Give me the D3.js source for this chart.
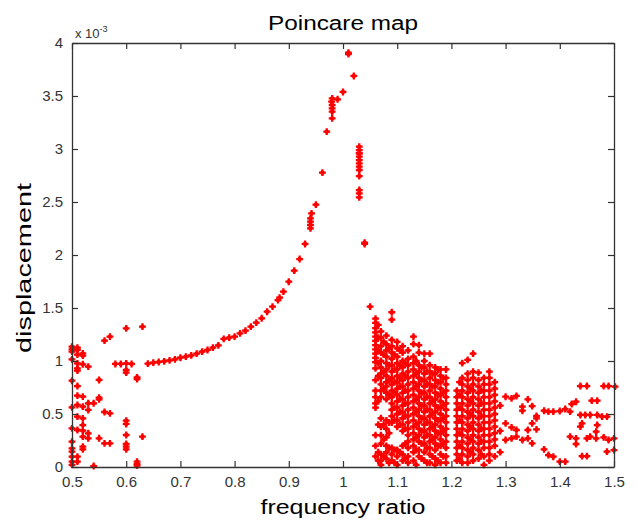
<!DOCTYPE html>
<html>
<head>
<meta charset="utf-8">
<script src="https://cdn.jsdelivr.net/npm/d3@7"></script>
<style>
  html, body { margin: 0; padding: 0; background: #fff; }
  svg { display: block; }
  text { font-family: "Liberation Sans", Arial, Helvetica, sans-serif; }
</style>
</head>
<body>
<svg id="chart" width="636" height="522"></svg>
<script>
// ---------- DATA (displacement in units of 1e-3) ----------
const xTickValues = [0.5, 0.6, 0.7, 0.8, 0.9, 1.0, 1.1, 1.2, 1.3, 1.4, 1.5];
const xTickLabels = ["0.5", "0.6", "0.7", "0.8", "0.9", "1", "1.1", "1.2", "1.3", "1.4", "1.5"];
const yTickValues = [0, 0.5, 1, 1.5, 2, 2.5, 3, 3.5, 4];
const yTickLabels = ["0", "0.5", "1", "1.5", "2", "2.5", "3", "3.5", "4"];

// low-frequency scattered region
const lowBandX = [0.50,0.51,0.50,0.51,0.52,0.52,0.50,0.51,0.52,0.53,0.51,0.51,
  0.50,0.51,0.51,0.52,0.50,0.51,0.52,0.53,0.54,0.53,0.55,0.55,0.51,0.52,0.50,0.51,0.52,0.52,0.53,0.53,0.52,0.52,0.52,0.50,0.50,0.50,0.50,0.51,0.51,0.54,
  0.55,0.56,0.57,0.58,0.59,0.60,0.61,0.60,0.60,0.60,0.63,0.62,0.62,0.56,0.57,0.60,0.60,0.60,0.60,0.60,0.60,0.55,0.56,0.57,0.63,0.62,0.62,0.62,
  0.50,0.50,0.50,0.51];
const lowBandY = [1.135,1.126,1.088,1.104,1.072,1.050,1.016,0.978,0.969,0.947,0.931,0.909,
  0.814,0.764,0.673,0.664,0.563,0.585,0.569,0.601,0.601,0.538,0.654,0.638,0.475,0.459,0.365,0.349,0.396,0.343,0.318,0.271,0.286,0.192,0.167,0.239,0.176,0.145,0.097,0.097,0.050,0.009,
  0.821,1.192,1.230,0.972,0.972,0.978,0.972,0.915,0.890,1.308,1.324,0.846,0.830,0.519,0.506,0.437,0.406,0.302,0.217,0.192,0.167,0.271,0.223,0.223,0.286,0.050,0.028,0.013,
  0.050,0.020,1.110,1.060];

// resonance curve (rising branch up to the peak)
const curveX = [0.64,0.65,0.66,0.67,0.68,0.69,0.70,0.71,0.72,0.73,0.74,0.75,0.76,0.77,
  0.78,0.79,0.80,0.81,0.82,0.83,0.84,0.85,0.86,0.87,0.88,0.883,0.89,0.90,0.91,0.92,0.93,
  0.94,0.94,0.94,0.94,0.942,0.95,0.962,0.97,0.98,0.98,0.98,0.98,0.979,0.98,0.99,1.00,1.01,1.01,1.02];
const curveY = [0.975,0.984,0.991,0.997,1.006,1.016,1.031,1.041,1.053,1.069,1.088,1.104,1.126,1.148,
  1.208,1.220,1.230,1.261,1.286,1.324,1.362,1.403,1.465,1.513,1.575,1.597,1.654,1.748,1.852,1.962,2.104,
  2.252,2.283,2.314,2.346,2.393,2.475,2.777,3.164,3.289,3.352,3.384,3.415,3.447,3.478,3.469,3.538,3.896,3.909,3.689];

// jump-down branch after the peak
const fallX = [1.03,1.03,1.03,1.03,1.03,1.03,1.03,1.03,1.03,1.03,1.03,1.03,1.03,1.04,1.04,1.05];
const fallY = [3.022,2.990,2.959,2.928,2.896,2.865,2.833,2.802,2.745,2.613,2.582,2.544,2.96,2.104,2.116,1.513];

// dense chaotic region: one column of displacements per frequency
const chaosX = [1.06,1.065,1.07,1.075,1.08,1.085,1.09,1.095,1.10,1.105,1.11,1.115,1.12,1.13,1.135,1.14,1.145,
  1.15,1.155,1.16,1.165,1.17,1.175,1.18,1.185,1.19,1.21,1.215,1.22,1.23,1.235,1.24,1.25,1.255,1.26,1.27,1.28,1.29];
const chaosY = [
  [1.40,1.36,1.31,1.27,1.23,1.19,1.15,1.11,1.07,1.03,0.99,0.93,0.82,0.72,0.66,0.60,0.56,0.30,0.20,0.10],
  [1.34,1.22,1.10,0.98,0.86,0.62,0.40,0.14,0.06],
  [1.28,1.22,1.14,1.08,1.00,0.94,0.88,0.84,0.78,0.72,0.66,0.46,0.38,0.30,0.22,0.12,0.06,0.02],
  [1.18,1.06,0.90,0.74,0.40,0.26,0.10],
  [1.24,1.16,1.10,1.04,0.98,0.92,0.86,0.80,0.76,0.70,0.64,0.44,0.36,0.28,0.20,0.14,0.08],
  [1.12,0.96,0.82,0.68,0.42,0.32,0.18,0.04],
  [1.46,1.39,1.20,1.14,1.08,1.02,0.96,0.90,0.84,0.78,0.72,0.66,0.60,0.54,0.48,0.42,0.18,0.12,0.06],
  [1.06,0.92,0.80,0.70,0.56,0.44,0.16,0.04],
  [1.18,1.12,1.04,0.98,0.92,0.86,0.80,0.74,0.68,0.62,0.56,0.50,0.44,0.38,0.16,0.10,0.02],
  [1.10,0.96,0.84,0.76,0.64,0.52,0.40,0.14],
  [1.14,1.08,1.00,0.94,0.88,0.82,0.76,0.70,0.64,0.58,0.52,0.46,0.40,0.34,0.20,0.12,0.06],
  [0.98,0.86,0.72,0.60,0.48,0.36,0.22,0.08],
  [1.10,1.02,0.96,0.90,0.84,0.78,0.72,0.66,0.60,0.54,0.48,0.42,0.36,0.30,0.24,0.18,0.10,0.04],
  [1.23,1.16,1.04,0.98,0.92,0.86,0.80,0.74,0.68,0.62,0.56,0.50,0.44,0.38,0.32,0.26,0.20,0.14,0.06],
  [1.00,0.88,0.76,0.64,0.52,0.40,0.28,0.16,0.02],
  [1.15,1.08,0.96,0.90,0.84,0.78,0.72,0.66,0.60,0.54,0.48,0.42,0.36,0.30,0.24,0.16,0.10],
  [0.94,0.82,0.70,0.58,0.46,0.34,0.22,0.08],
  [1.07,1.00,0.94,0.88,0.82,0.76,0.70,0.64,0.58,0.52,0.46,0.40,0.34,0.28,0.22,0.14,0.06],
  [0.90,0.78,0.66,0.54,0.42,0.30,0.18,0.04],
  [1.07,0.96,0.90,0.84,0.78,0.72,0.66,0.60,0.54,0.48,0.42,0.36,0.30,0.24,0.18,0.12,0.04],
  [0.88,0.76,0.62,0.50,0.38,0.26,0.10],
  [0.94,0.88,0.82,0.76,0.70,0.64,0.58,0.52,0.46,0.40,0.34,0.28,0.22,0.16,0.08,0.02],
  [0.92,0.80,0.68,0.56,0.44,0.32,0.20,0.06],
  [0.92,0.86,0.80,0.74,0.68,0.62,0.56,0.50,0.44,0.38,0.32,0.26,0.20,0.12,0.04],
  [0.84,0.70,0.58,0.46,0.34,0.22,0.10],
  [0.92,0.84,0.78,0.72,0.66,0.60,0.54,0.48,0.42,0.36,0.30,0.24,0.18,0.10,0.04],
  [0.72,0.66,0.60,0.54,0.48,0.42,0.36,0.30,0.24,0.18,0.12,0.06],
  [0.80,0.68,0.56,0.44,0.32,0.20,0.08],
  [0.98,0.84,0.78,0.72,0.66,0.60,0.54,0.48,0.42,0.36,0.30,0.24,0.18,0.12,0.04],
  [1.01,0.88,0.82,0.76,0.70,0.64,0.58,0.52,0.46,0.40,0.34,0.28,0.22,0.16,0.10,0.04],
  [0.74,0.62,0.50,0.38,0.26,0.14],
  [1.07,0.90,0.84,0.78,0.72,0.66,0.60,0.54,0.48,0.42,0.36,0.30,0.24,0.18,0.12,0.06],
  [0.89,0.82,0.76,0.70,0.64,0.58,0.52,0.46,0.40,0.34,0.28,0.22,0.16,0.08],
  [0.72,0.60,0.48,0.36,0.24,0.12],
  [0.84,0.78,0.72,0.66,0.60,0.54,0.48,0.42,0.36,0.30,0.24,0.18,0.10,0.02],
  [0.90,0.84,0.78,0.72,0.66,0.60,0.54,0.48,0.42,0.36,0.30,0.24,0.18,0.12,0.06],
  [0.80,0.74,0.68,0.62,0.56,0.50,0.44,0.38,0.32,0.26,0.20,0.10],
  [0.58,0.34,0.14]
];

// sparse high-frequency region
const highBandX = [1.300,1.311,1.320,1.300,1.311,1.320,1.320,1.311,1.300,
  1.331,1.331,1.341,1.349,1.331,1.341,1.341,1.349,1.349,1.357,1.357,1.357,
  1.371,1.379,1.388,1.400,1.410,1.419,1.422,1.430,
  1.371,1.379,1.388,1.400,1.410,
  1.419,1.430,1.430,1.438,1.441,1.450,1.456,1.467,1.469,1.467,1.438,1.447,1.456,1.469,1.478,1.487,1.481,1.490,1.500,1.487,1.500,
  1.438,1.450,1.481,1.490,1.502,1.459,1.469,1.441,1.450];
const highBandY = [0.663,0.648,0.670,0.412,0.374,0.349,0.286,0.270,0.255,
  0.569,0.531,0.638,0.575,0.255,0.270,0.349,0.412,0.223,0.355,0.459,0.481,
  0.531,0.522,0.522,0.528,0.547,0.522,0.594,0.616,
  0.167,0.113,0.097,0.050,0.050,
  0.286,0.270,0.217,0.381,0.412,0.270,0.286,0.333,0.396,0.270,0.491,0.491,0.491,0.491,0.475,0.475,0.280,0.255,0.270,0.145,0.160,
  0.764,0.764,0.764,0.764,0.758,0.626,0.626,0.102,0.102];

// ---------- CHART ----------
const W = 636, H = 522;
const M = { left: 72, right: 614, top: 43, bottom: 467 };
const svg = d3.select("#chart");
svg.append("rect").attr("width", W).attr("height", H).attr("fill", "#fff");

const x = d3.scaleLinear().domain([0.5, 1.5]).range([M.left, M.right]);
const y = d3.scaleLinear().domain([0, 4]).range([M.bottom, M.top]);

// assemble points
const pts = [];
lowBandX.forEach((v, i) => pts.push([v, lowBandY[i]]));
curveX.forEach((v, i) => pts.push([v, curveY[i]]));
fallX.forEach((v, i) => pts.push([v, fallY[i]]));
chaosX.forEach((v, i) => chaosY[i].forEach(d => pts.push([v, d])));
highBandX.forEach((v, i) => pts.push([v, highBandY[i]]));
const visible = pts.filter(p => p[1] >= 0 && p[1] <= 4);

const sym = d3.symbol().type(d3.symbolCross).size(26);
const g = svg.append("g");
g.selectAll("path.pt").data(visible)
  .join("path").attr("class", "pt")
  .attr("transform", d => `translate(${x(d[0])},${y(d[1])})`)
  .attr("d", sym)
  .attr("fill", "#ff0000");
g.selectAll("circle.pt").data(visible)
  .join("circle").attr("class", "pt")
  .attr("cx", d => x(d[0])).attr("cy", d => y(d[1])).attr("r", 2.2)
  .attr("fill", "#ff0000");

// axes (inward ticks, box)
const axisColor = "#333";
const fmtX = (d, i) => xTickLabels[i];
const fmtY = (d, i) => yTickLabels[i];

const gx = svg.append("g").attr("transform", `translate(0,${M.bottom})`)
  .call(d3.axisBottom(x).tickValues(xTickValues).tickFormat(fmtX).tickSizeInner(-6).tickSizeOuter(0).tickPadding(9));
const gy = svg.append("g").attr("transform", `translate(${M.left},0)`)
  .call(d3.axisLeft(y).tickValues(yTickValues).tickFormat(fmtY).tickSizeInner(-6).tickSizeOuter(0).tickPadding(9));
const gt = svg.append("g").attr("transform", `translate(0,${M.top})`)
  .call(d3.axisTop(x).tickValues(xTickValues).tickFormat("").tickSizeInner(-6).tickSizeOuter(0));
const gr = svg.append("g").attr("transform", `translate(${M.right},0)`)
  .call(d3.axisRight(y).tickValues(yTickValues).tickFormat("").tickSizeInner(-6).tickSizeOuter(0));

[gx, gy, gt, gr].forEach(a => {
  a.selectAll("path.domain").attr("stroke", axisColor).attr("stroke-width", 1.3);
  a.selectAll(".tick line").attr("stroke", axisColor).attr("stroke-width", 1.2);
  a.selectAll(".tick text").attr("fill", "#333").attr("font-size", 15)
    .attr("font-family", '"Liberation Sans", Arial, sans-serif');
});

// exponent label
const expo = svg.append("text").attr("x", 75).attr("y", 38).attr("fill", "#333")
  .attr("font-size", 13);
expo.append("tspan").text("x 10");
expo.append("tspan").attr("font-size", 9).attr("dy", -6).text("-3");

// title & axis labels
svg.append("text").attr("x", (M.left + M.right) / 2).attr("y", 30)
  .attr("text-anchor", "middle").attr("font-size", 20).attr("fill", "#000")
  .attr("textLength", 150).attr("lengthAdjust", "spacingAndGlyphs")
  .text("Poincare map");
svg.append("text").attr("x", (M.left + M.right) / 2).attr("y", 514)
  .attr("text-anchor", "middle").attr("font-size", 20).attr("fill", "#000")
  .attr("textLength", 165).attr("lengthAdjust", "spacingAndGlyphs")
  .text("frequency ratio");
svg.append("text").attr("transform", `translate(31,${(M.top + M.bottom) / 2 + 13}) rotate(-90)`)
  .attr("text-anchor", "middle").attr("font-size", 21).attr("fill", "#000")
  .attr("textLength", 170).attr("lengthAdjust", "spacingAndGlyphs")
  .text("displacement");
</script>
</body>
</html>
